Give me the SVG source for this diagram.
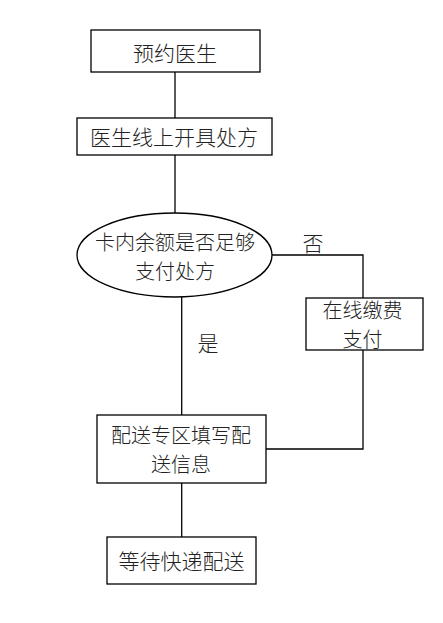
<svg xmlns="http://www.w3.org/2000/svg" width="443" height="623" viewBox="0 0 443 623">
<style>
.n{fill:#fff;stroke:#000;stroke-width:1.3}
.c{fill:none;stroke:#000;stroke-width:1.3}
text{font-family:"Noto Sans CJK SC","Noto Sans",sans-serif;font-size:21px;font-weight:300;fill:#222;text-anchor:middle;dominant-baseline:central}
text.m{font-size:20px}
</style>
<rect width="443" height="623" fill="#fff"/>
<g id="connectors">
<path class="c" d="M175 72V118"/>
<path class="c" d="M175 155V213"/>
<path class="c" d="M272 255H363V298"/>
<path class="c" d="M181.7 297V415"/>
<path class="c" d="M363 350V449H266"/>
<path class="c" d="M181.7 483V537"/>
</g>
<g id="n1"><rect class="n" x="91" y="30" width="169" height="42"/><text x="175" y="51.5">预约医生</text></g>
<g id="n2"><rect class="n" x="77" y="118" width="195" height="37"/><text x="174" y="135.5">医生线上开具处方</text></g>
<g id="n3"><ellipse class="n" cx="174.5" cy="255" rx="97.5" ry="42"/><text class="m" x="175" y="241">卡内余额是否足够</text><text class="m" x="175" y="270">支付处方</text></g>
<g id="n4"><rect class="n" x="306" y="298" width="117" height="52"/><text class="m" x="362.5" y="309.5">在线缴费</text><text class="m" x="362.5" y="338.5">支付</text></g>
<g id="n5"><rect class="n" x="97" y="415" width="169" height="68"/><text class="m" x="181" y="434">配送专区填写配</text><text class="m" x="181" y="463">送信息</text></g>
<g id="n6"><rect class="n" x="107" y="537" width="149" height="47"/><text x="181.5" y="560">等待快递配送</text></g>
<g id="labels"><text x="313" y="242">否</text><text x="208" y="342">是</text></g>
</svg>
